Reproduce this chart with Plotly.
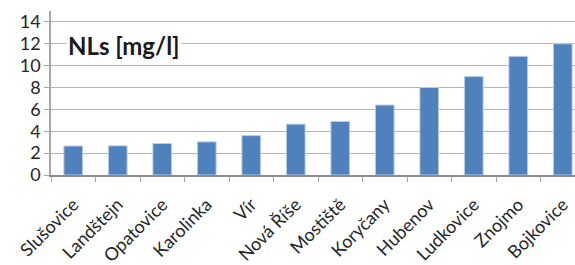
import plotly.graph_objects as go

categories = ["Slušovice", "Landštejn", "Opatovice", "Karolinka", "Vír", "Nová Říše",
              "Mostiště", "Koryčany", "Hubenov", "Ludkovice", "Znojmo", "Bojkovice"]
values = [2.65, 2.67, 2.88, 3.03, 3.6, 4.65, 4.9, 6.4, 8.0, 9.0, 10.85, 12.0]
y_ticks = [0, 2, 4, 6, 8, 10, 12, 14]
title_text = "NLs [mg/l]"

FONT = "Lato, 'Open Sans', sans-serif"

fig = go.Figure(go.Bar(
    x=categories, y=values,
    marker=dict(color="#4F81BD", line=dict(color="#B9CDE5", width=1)),
    width=0.42,
))

fig.update_layout(
    width=575, height=265,
    margin=dict(l=51, r=0, t=11, b=90),
    paper_bgcolor="white", plot_bgcolor="white",
    showlegend=False,
    font=dict(family=FONT, size=16, color="#262626"),
)
fig.update_xaxes(
    type="category",
    range=[-0.5, 11.275],
    tickangle=-45,
    tickson="boundaries",
    ticks="outside", ticklen=5, tickcolor="#A6A6A6", tickwidth=1,
    showline=True, linecolor="#8C8C8C", linewidth=2,
    showgrid=False,
    tickfont=dict(family=FONT, size=18, color="#262626"),
    ticklabelstandoff=10,
    automargin=False,
)
fig.update_yaxes(
    range=[0, 15],
    tickvals=y_ticks,
    ticks="outside", ticklen=5, tickcolor="#A6A6A6",
    showline=True, linecolor="#A6A6A6", linewidth=1.5,
    showgrid=True, gridcolor="#B4B4B4", gridwidth=1.3,
    zeroline=False,
    tickfont=dict(family=FONT, size=18, color="#262626"),
    automargin=False,
)
fig.add_annotation(
    text="<b>" + title_text + "</b>",
    xref="paper", yref="y",
    x=(124 - 51) / 524, y=11.8, xanchor="center", yanchor="middle",
    showarrow=False,
    font=dict(family=FONT, size=24, color="#1a1a1a"),
    bgcolor="white", borderpad=1,
)

fig.write_html("out.html",
               config={"displayModeBar": False},
               post_script="document.body.style.margin='0';document.body.style.overflow='hidden';")
